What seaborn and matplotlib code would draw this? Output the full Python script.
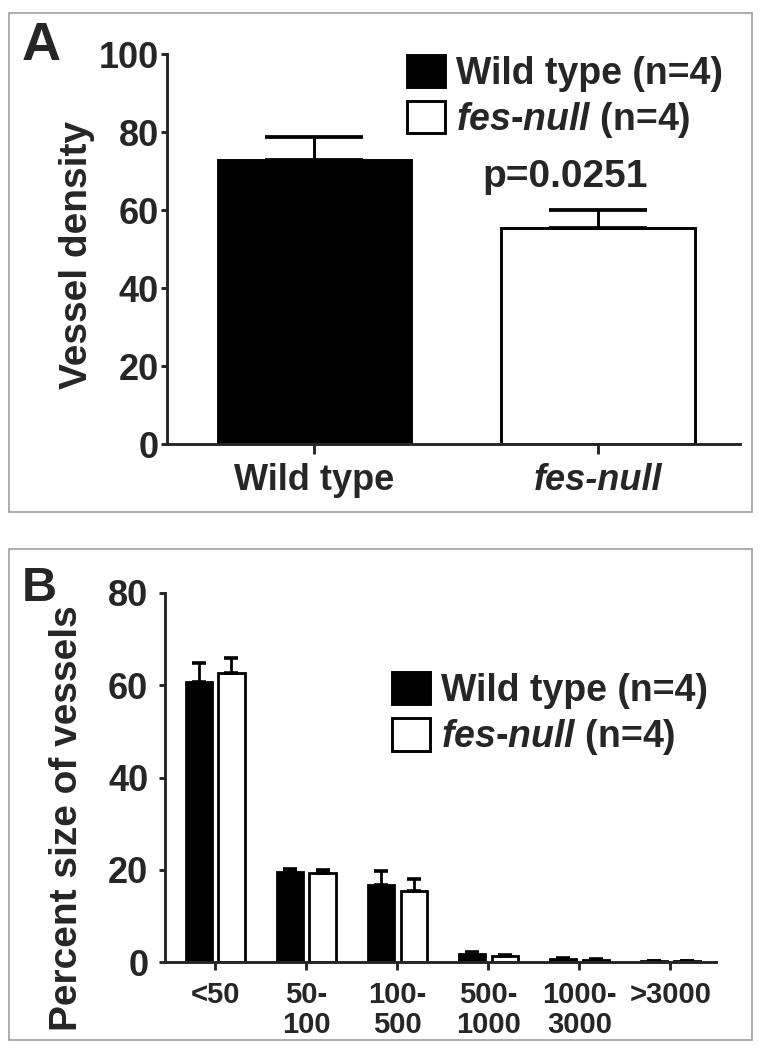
import matplotlib
matplotlib.use("Agg")
import matplotlib.pyplot as plt
from matplotlib.patches import Rectangle, Patch
import seaborn as sns
import pandas as pd
import numpy as np

# panel A data
groups = ["Wild type", "fes-null"]
density = [72.8, 55.4]
density_sem = [5.8, 4.6]

# panel B data
size_bins = ["<50", "50-\n100", "100-\n500", "500-\n1000", "1000-\n3000", ">3000"]
wt_pct = [60.8, 19.5, 16.8, 1.8, 0.7, 0.2]
wt_sem = [4.1, 0.6, 3.0, 0.3, 0.2, 0.1]
null_pct = [62.7, 19.4, 15.4, 1.2, 0.4, 0.2]
null_sem = [3.3, 0.6, 2.6, 0.3, 0.15, 0.1]

sns.set_style("white")
plt.rcParams["font.family"] = ["Liberation Sans", "DejaVu Sans"]
plt.rcParams["font.weight"] = "bold"
plt.rcParams["mathtext.fontset"] = "custom"
plt.rcParams["mathtext.it"] = "Liberation Sans:italic:bold"
plt.rcParams["mathtext.rm"] = "Liberation Sans:bold"

W, H = 761, 1050
fig = plt.figure(figsize=(W / 100, H / 100), dpi=100)


def fx(px):
    return px / W


def fy(py):
    return 1 - py / H


# gray frames round each panel
fig.add_artist(Rectangle((fx(9), fy(512)), fx(752) - fx(9), fy(13) - fy(512),
                         transform=fig.transFigure, fill=False, ec="#a0a0a0", lw=1.2))
fig.add_artist(Rectangle((fx(9), fy(1040)), fx(752) - fx(9), fy(549) - fy(1040),
                         transform=fig.transFigure, fill=False, ec="#a0a0a0", lw=1.2))

LW = 2.1
null_lab = r"$\mathit{fes}$-$\mathit{null}$ (n=4)"

# ---------------- panel A ----------------
ax1 = fig.add_axes([fx(167), fy(444), fx(740) - fx(167), fy(54) - fy(444)])
dfa = pd.DataFrame({"group": groups, "density": density})
sns.barplot(data=dfa, x="group", y="density", hue="group", palette=["black", "white"],
            edgecolor="black", linewidth=LW, width=0.68, errorbar=None, legend=False, ax=ax1)
xa = [p.get_x() + p.get_width() / 2 for p in ax1.patches]
ax1.errorbar(xa, density, yerr=[np.zeros(len(density)), density_sem], fmt="none",
             ecolor="black", elinewidth=LW, capsize=35, capthick=LW + 0.6, zorder=1)
ax1.set_ylim(0, 100)
ax1.set_xlim(-0.518, 1.5)
ax1.set_yticks([0, 20, 40, 60, 80, 100])
ax1.set_xlabel("")
ax1.set_ylabel("Vessel density", fontsize=28, fontweight="bold")
ax1.yaxis.set_label_coords(-0.125, 0.485)
sns.despine(ax=ax1)
for s in ["left", "bottom"]:
    ax1.spines[s].set_linewidth(LW)
ax1.tick_params(axis="y", length=4, width=LW, pad=2, labelsize=26, left=True)
ax1.tick_params(axis="x", length=7, width=LW, pad=7, labelsize=26, bottom=True)
ax1.set_xticks([0, 1])
ax1.set_xticklabels(groups)
ax1.get_xticklabels()[1].set_style("italic")
ax1.text(0.695, 0.685, "p=0.0251", transform=ax1.transAxes, ha="center", va="center",
         fontsize=28, fontweight="bold")
h1 = [Patch(fc="black", ec="black", lw=LW), Patch(fc="white", ec="black", lw=LW)]
ax1.legend(h1, ["Wild type (n=4)", null_lab], loc="upper left",
           bbox_to_anchor=(fx(407), fy(55)), bbox_transform=fig.transFigure,
           frameon=False, fontsize=27, handlelength=1.0, handleheight=0.95,
           handletextpad=0.3, labelspacing=0.2, borderpad=0, borderaxespad=0)
fig.text(fx(22), fy(60), "A", fontsize=39, fontweight="bold", va="baseline")

# ---------------- panel B ----------------
ax2 = fig.add_axes([fx(165), fy(962), fx(716) - fx(165), fy(593) - fy(962)])
dfb = pd.DataFrame({
    "size": size_bins * 2,
    "pct": wt_pct + null_pct,
    "genotype": ["Wild type"] * len(size_bins) + ["fes-null"] * len(size_bins),
})
sns.barplot(data=dfb, x="size", y="pct", hue="genotype", palette=["black", "white"],
            edgecolor="black", linewidth=2.0, width=0.72, gap=0.2, errorbar=None,
            legend=False, ax=ax2)
for cont, vals, errs in zip(ax2.containers, [wt_pct, null_pct], [wt_sem, null_sem]):
    xs = [b.get_x() + b.get_width() / 2 for b in cont]
    ax2.errorbar(xs, vals, yerr=[np.zeros(len(vals)), errs], fmt="none", ecolor="black",
                 elinewidth=2.0, capsize=5, capthick=2.6, zorder=1)
ax2.set_ylim(0, 80)
ax2.set_xlim(-0.55, 5.5)
ax2.set_yticks([0, 20, 40, 60, 80])
ax2.set_xlabel("")
ax2.set_ylabel("Percent size of vessels", fontsize=28, fontweight="bold")
ax2.yaxis.set_label_coords(-0.146, 0.39)
sns.despine(ax=ax2)
for s in ["left", "bottom"]:
    ax2.spines[s].set_linewidth(LW)
ax2.tick_params(axis="y", length=4, width=LW, pad=8, labelsize=26, left=True)
ax2.tick_params(axis="x", length=6, width=LW, pad=8, labelsize=21, bottom=True)
for t in ax2.get_xticklabels():
    t.set_linespacing(1.05)
h2 = [Patch(fc="black", ec="black", lw=LW), Patch(fc="white", ec="black", lw=LW)]
ax2.legend(h2, ["Wild type (n=4)", null_lab], loc="upper left",
           bbox_to_anchor=(fx(392), fy(672)), bbox_transform=fig.transFigure,
           frameon=False, fontsize=27, handlelength=1.0, handleheight=0.95,
           handletextpad=0.3, labelspacing=0.22, borderpad=0, borderaxespad=0)
fig.text(fx(22), fy(601), "B", fontsize=35, fontweight="bold", va="baseline")

fig.savefig("out.png", dpi=100)
